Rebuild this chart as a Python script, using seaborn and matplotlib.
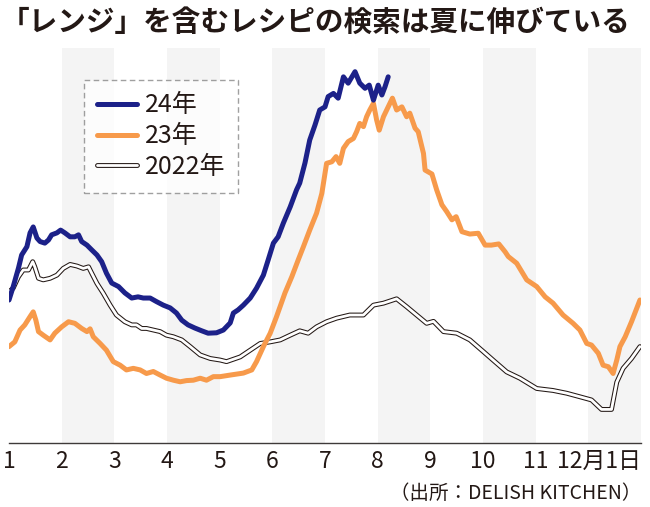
import numpy as np
import pandas as pd
import matplotlib
matplotlib.use("Agg")
import matplotlib.pyplot as plt
import seaborn as sns
from matplotlib.lines import Line2D
from matplotlib.legend_handler import HandlerTuple

# ---------------- data (x = months since Jan 1, y = relative search index) -------------
title = "「レンジ」を含むレシピの検索は夏に伸びている"
source = "（出所：DELISH KITCHEN）"
tick_labels = ["1", "2", "3", "4", "5", "6", "7", "8", "9", "10", "11", "", "12月1日"]
legend_labels = ["24年", "23年", "2022年"]
shaded_months = [1, 3, 5, 7, 9, 11]

m24 = [0.00, 0.08, 0.18, 0.24, 0.34, 0.40, 0.46, 0.53, 0.59, 0.68, 0.75, 0.81, 0.91, 0.98,
       1.06, 1.16, 1.25, 1.32, 1.38, 1.48, 1.57, 1.67, 1.76, 1.85, 1.95, 2.08, 2.20, 2.33,
       2.45, 2.55, 2.68, 2.80, 2.93, 3.06, 3.18, 3.28, 3.40, 3.53, 3.66, 3.78, 3.94, 4.07,
       4.20, 4.26, 4.35, 4.45, 4.58, 4.70, 4.83, 4.92, 5.02, 5.11, 5.21, 5.34, 5.46, 5.52,
       5.62, 5.71, 5.81, 5.90, 6.00, 6.06, 6.16, 6.25, 6.35, 6.44, 6.57, 6.66, 6.76, 6.84,
       6.92, 7.01, 7.08, 7.14, 7.20]
v24 = [36.2, 39.6, 44.3, 47.6, 49.7, 53.2, 54.7, 51.9, 51.0, 50.6, 51.4, 52.7, 53.2, 53.9,
       53.2, 52.2, 52.2, 52.7, 51.0, 50.1, 48.9, 47.6, 45.9, 43.0, 40.5, 39.6, 38.0, 36.7,
       37.0, 36.7, 36.7, 35.8, 34.9, 34.2, 32.9, 31.1, 29.9, 29.1, 28.4, 27.8, 27.9, 28.6,
       30.4, 32.9, 33.7, 34.9, 36.7, 39.2, 42.5, 46.3, 50.6, 52.2, 55.7, 59.8, 64.1, 65.8,
       70.9, 76.7, 80.5, 84.3, 85.1, 87.7, 88.5, 87.3, 92.7, 91.1, 94.0, 91.1, 89.8, 90.6,
       86.8, 90.6, 88.1, 90.2, 92.7]

m23 = [0.00, 0.11, 0.21, 0.30, 0.40, 0.46, 0.51, 0.56, 0.65, 0.78,
       0.87, 1.00, 1.13, 1.25, 1.38, 1.48, 1.54, 1.60, 1.73, 1.85,
       1.98, 2.11, 2.23, 2.36, 2.49, 2.61, 2.74, 2.87, 2.99, 3.12,
       3.25, 3.37, 3.50, 3.63, 3.75, 3.88, 4.01, 4.20, 4.45, 4.61,
       4.70, 4.83, 4.96, 5.08, 5.24, 5.37, 5.49, 5.59, 5.71, 5.84,
       5.94, 6.03, 6.13, 6.21, 6.28, 6.35, 6.44, 6.54, 6.60, 6.66,
       6.73, 6.79, 6.85, 6.92, 6.98, 7.03, 7.11, 7.20, 7.28, 7.36,
       7.46, 7.55, 7.61, 7.71, 7.77, 7.87, 7.90, 8.03, 8.12, 8.22,
       8.31, 8.41, 8.49, 8.60, 8.75, 8.91, 9.04, 9.16, 9.30, 9.42,
       9.48, 9.64, 9.83, 10.02, 10.18, 10.33, 10.52, 10.71, 10.84, 10.97,
       11.06, 11.19, 11.28, 11.38, 11.47, 11.54, 11.60, 11.70, 11.82, 11.98]
v23 = [24.4, 25.6, 28.6, 29.9, 32.0, 33.2, 31.1, 28.2, 27.3, 26.1,
       27.8, 29.4, 30.7, 30.3, 29.0, 28.2, 28.9, 26.9, 25.2, 23.5,
       20.6, 19.7, 18.5, 18.9, 18.5, 17.6, 18.1, 17.2, 16.4, 15.9,
       15.5, 15.8, 15.9, 16.4, 15.9, 16.8, 16.8, 17.2, 17.7, 18.5,
       20.6, 24.4, 27.8, 32.0, 38.0, 42.1, 46.3, 49.7, 53.9, 58.2,
       63.2, 70.8, 71.2, 72.5, 70.8, 74.6, 76.3, 77.1, 78.8, 80.9,
       80.1, 82.6, 84.3, 86.0, 81.8, 79.2, 82.6, 85.1, 87.3, 84.3,
       85.1, 82.6, 83.5, 79.7, 78.8, 73.3, 69.1, 68.1, 64.1, 60.3,
       58.6, 56.5, 57.3, 53.5, 52.9, 53.1, 50.1, 50.1, 50.4, 48.4,
       47.2, 45.5, 41.3, 39.6, 37.0, 35.4, 32.4, 30.3, 28.6, 25.2,
       24.8, 22.7, 19.7, 19.3, 17.6, 21.0, 24.4, 26.9, 30.7, 36.2]

m22 = [0.00, 0.08, 0.18, 0.27, 0.37, 0.45, 0.49, 0.56, 0.65, 0.78,
       0.91, 1.03, 1.16, 1.29, 1.41, 1.51, 1.57, 1.67, 1.79, 1.92,
       2.04, 2.20, 2.33, 2.42, 2.52, 2.61, 2.74, 2.87, 2.99, 3.12,
       3.28, 3.44, 3.63, 3.82, 4.01, 4.13, 4.39, 4.58, 4.77, 4.96,
       5.15, 5.34, 5.52, 5.68, 5.84, 6.03, 6.22, 6.47, 6.73, 6.92,
       7.11, 7.36, 7.55, 7.74, 7.93, 8.06, 8.25, 8.50, 8.75, 9.01,
       9.19, 9.45, 9.70, 10.02, 10.33, 10.59, 10.84, 11.06, 11.25, 11.44,
       11.54, 11.66, 11.82, 11.98]
v22 = [38.3, 39.2, 42.1, 43.8, 43.8, 45.9, 44.6, 41.7, 41.3, 41.7,
       42.5, 44.2, 45.2, 44.8, 44.2, 44.6, 43.0, 40.4, 37.9, 34.9,
       32.4, 30.7, 29.9, 29.9, 29.0, 29.0, 28.6, 28.2, 27.3, 26.9,
       26.1, 24.4, 22.3, 21.4, 21.0, 20.6, 21.8, 23.5, 25.2, 25.6,
       26.1, 27.3, 28.4, 27.8, 29.4, 30.7, 31.6, 32.4, 32.4, 34.9,
       35.4, 36.5, 34.5, 32.4, 30.3, 30.8, 28.2, 27.8, 26.1, 23.1,
       21.0, 18.0, 16.4, 13.8, 13.3, 12.6, 11.7, 10.9, 8.5, 8.5,
       15.4, 18.9, 21.4, 24.4]

# ---------------- style ----------------
NAVY = "#1c2189"
ORANGE = "#f79a4b"
INK = "#231815"
AXIS = "#3e3a39"
BAND = "#f4f4f4"

sns.set_theme(style="white")
plt.rcParams["font.family"] = ["Noto Sans CJK JP", "DejaVu Sans"]

fig = plt.figure(figsize=(6.5, 5.07), dpi=100)
ax = fig.add_axes([9 / 650, 64 / 507, 632 / 650, 395 / 507])

for s in shaded_months:
    ax.axvspan(s, s + 1, color=BAND, lw=0, zorder=0)

df22 = pd.DataFrame({"month": m22, "index": v22})
df23 = pd.DataFrame({"month": m23, "index": v23})
df24 = pd.DataFrame({"month": m24, "index": v24})

line_kw = dict(estimator=None, solid_capstyle="round", solid_joinstyle="round")
sns.lineplot(data=df22, x="month", y="index", ax=ax, color=INK, lw=3.5, zorder=2, **line_kw)
sns.lineplot(data=df22, x="month", y="index", ax=ax, color="white", lw=2.0, zorder=2.1, **line_kw)
sns.lineplot(data=df23, x="month", y="index", ax=ax, color=ORANGE, lw=3.6, zorder=3, **line_kw)
sns.lineplot(data=df24, x="month", y="index", ax=ax, color=NAVY, lw=3.6, zorder=4, **line_kw)

ax.set_xlim(0, 12)
ax.set_ylim(0, 100)
ax.set_yticks([])
ax.set_xlabel("")
ax.set_ylabel("")
for side in ["left", "top", "right"]:
    ax.spines[side].set_visible(False)
ax.spines["bottom"].set_color(AXIS)
ax.spines["bottom"].set_linewidth(1.0)

ax.set_xticks(range(len(tick_labels)))
ax.set_xticklabels(tick_labels, fontsize=16.5, color=INK)
ax.tick_params(axis="x", direction="in", length=5, width=1, color=AXIS, pad=5)
ax.get_xticklabels()[-1].set_horizontalalignment("right")

# legend
h24 = Line2D([], [], color=NAVY, lw=3.6, solid_capstyle="round")
h23 = Line2D([], [], color=ORANGE, lw=3.6, solid_capstyle="round")
h22 = (Line2D([], [], color=INK, lw=3.5, solid_capstyle="round"),
       Line2D([], [], color="white", lw=2.0, solid_capstyle="round"))
leg = fig.legend([h24, h23, h22], legend_labels, loc="upper left",
                 bbox_to_anchor=(84 / 650, 1 - 80 / 507), bbox_transform=fig.transFigure,
                 handler_map={tuple: HandlerTuple(ndivide=1, pad=0)},
                 fontsize=18, frameon=True, fancybox=False, edgecolor="#888888",
                 handlelength=1.6, handletextpad=0.35, borderpad=0.5,
                 labelspacing=0.19, borderaxespad=0)
leg.get_frame().set_linestyle((0, (4, 2.5)))
leg.get_frame().set_linewidth(1.0)
leg.get_frame().set_facecolor("white")
for t in leg.get_texts():
    t.set_color(INK)

fig.text(1 / 650, 1 - 22 / 507, title, fontsize=20.6, fontweight="bold",
         va="center", ha="left", color=INK)
fig.text(641 / 650, 1 - 493 / 507, source, ha="right", va="center",
         fontsize=14, color=INK)

fig.savefig("out.png", dpi=100)
